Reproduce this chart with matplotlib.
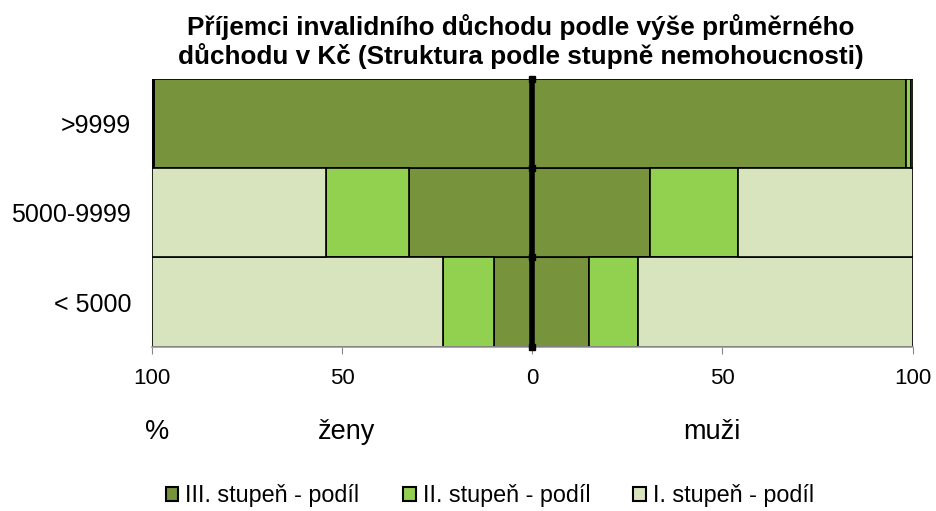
import numpy as np
import matplotlib.pyplot as plt

plt.rcParams['font.family'] = ['Liberation Sans', 'DejaVu Sans']

# categories bottom -> top
categories = ["< 5000", "5000-9999", ">9999"]
series_names = ["III. stupeň - podíl", "II. stupeň - podíl", "I. stupeň - podíl"]
colors = ["#77933C", "#92D050", "#D7E4BD"]

# shares in % (III., II., I. degree) per category
zeny_iii = [10.2, 32.5, 99.4]
zeny_ii = [13.2, 21.7, 0.4]
zeny_i = [76.6, 45.8, 0.2]

muzi_iii = [14.8, 31.0, 98.2]
muzi_ii = [13.1, 23.0, 1.5]
muzi_i = [72.1, 46.0, 0.3]

x_ticks = [-100, -50, 0, 50, 100]

fig = plt.figure(figsize=(9.36, 5.11), dpi=100)
ax = fig.add_axes([0.1624, 0.3215, 0.8126, 0.5245])

y = np.arange(len(categories))
zeny = [zeny_iii, zeny_ii, zeny_i]
muzi = [muzi_iii, muzi_ii, muzi_i]

left_z = np.zeros(len(categories))
left_m = np.zeros(len(categories))
for k in range(3):
    vz = np.array(zeny[k])
    vm = np.array(muzi[k])
    ax.barh(y, -vz, left=-left_z, height=1.0, color=colors[k],
            edgecolor="black", linewidth=1.2, label=series_names[k])
    ax.barh(y, vm, left=left_m, height=1.0, color=colors[k],
            edgecolor="black", linewidth=1.2)
    left_z += vz
    left_m += vm

# thick zero line with small square marks at bar boundaries
ax.axvline(0, color="black", linewidth=4, zorder=5)
bounds = np.arange(len(categories) + 1) - 0.5
ax.plot(np.zeros(len(bounds)), bounds, linestyle="none", marker="s",
        markersize=4.5, color="black", zorder=6, clip_on=False)

ax.set_xlim(-100, 100)
ax.set_ylim(-0.5, len(categories) - 0.5)
ax.set_xticks(x_ticks)
ax.set_xticklabels([str(abs(t)) for t in x_ticks])
ax.set_yticks(y)
ax.set_yticklabels(categories)
ax.tick_params(axis="x", labelsize=16, color="#888888", length=5, pad=10)
ax.tick_params(axis="y", labelsize=18, length=0, pad=15)
for s in ["top", "right", "left"]:
    ax.spines[s].set_visible(False)
ax.spines["bottom"].set_color("#999999")
ax.spines["bottom"].set_linewidth(1.2)

fig.text(0.556, 0.918, "Příjemci invalidního důchodu podle výše průměrného\n"
         "důchodu v Kč (Struktura podle stupně nemohoucnosti)",
         ha="center", va="center", fontsize=18.8, fontweight="bold",
         linespacing=1.15)

fig.text(0.168, 0.155, "%", ha="center", va="center", fontsize=19.5)
fig.text(0.370, 0.155, "ženy", ha="center", va="center", fontsize=19.5)
fig.text(0.761, 0.155, "muži", ha="center", va="center", fontsize=19.5)

leg = fig.legend(loc="center", bbox_to_anchor=(0.5235, 0.03), ncol=3,
                 frameon=False, fontsize=16.8, handlelength=0.55,
                 handleheight=0.55, handletextpad=0.3, columnspacing=1.85,
                 borderpad=0.1)
for h in leg.legend_handles:
    h.set_linewidth(1.5)

fig.savefig("out.png", dpi=100)
